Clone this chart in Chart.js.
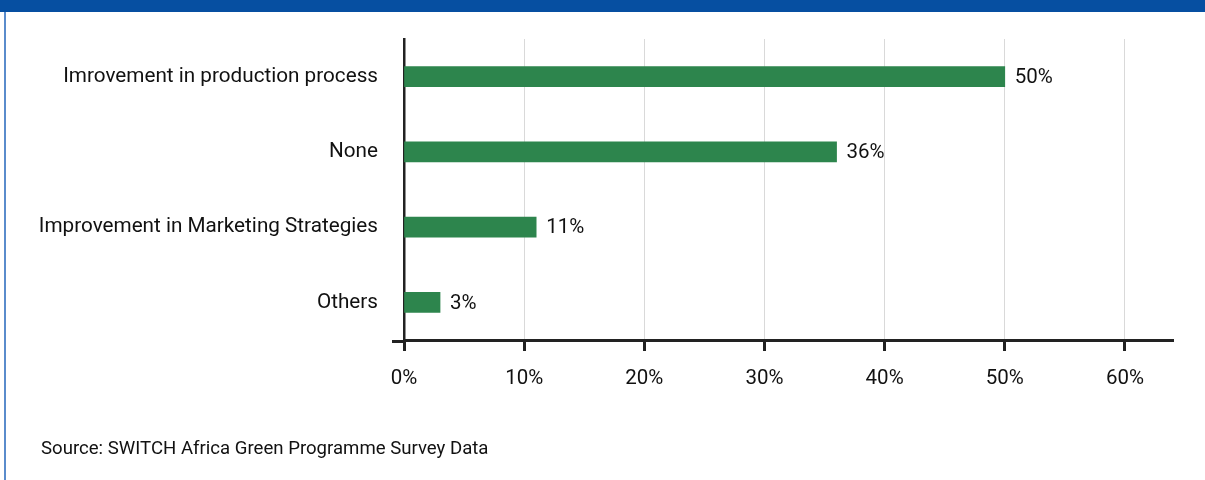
<!DOCTYPE html>
<html>
<head>
<meta charset="utf-8">
<script src="https://cdn.jsdelivr.net/npm/chart.js@4"></script>
<style>
    html, body { margin: 0; padding: 0; background: #fff; }
    #wrap { position: relative; width: 1205px; height: 480px; overflow: hidden; font-family: Roboto, sans-serif; }
    #banner { position: absolute; left: 0; top: 0; width: 1205px; height: 12px; background: #064fa1; }
    #edge { position: absolute; left: 4px; top: 12px; width: 2px; height: 468px; background: #5a8ccc; }
    #source { position: absolute; left: 41px; top: 437px; font-size: 18.6px; color: #111; }
    canvas { position: absolute; left: 0; top: 0; }
</style>
</head>
<body>
<div id="wrap">
    <div id="banner"></div>
    <div id="edge"></div>
    <canvas id="impactoChart" width="1205" height="480"></canvas>
    <div id="source">Source: SWITCH Africa Green Programme Survey Data</div>
</div>
<script>
const categorias = [
    'Imrovement in production process',
    'None',
    'Improvement in Marketing Strategies',
    'Others'
];
const porcentajes = [50, 36, 11, 3];
const ticksX = [0, 10, 20, 30, 40, 50, 60];

// etiquetas de valor a la derecha de cada barra
const etiquetasValor = {
    id: 'etiquetasValor',
    afterDatasetsDraw(chart) {
        const ctx = chart.ctx;
        const meta = chart.getDatasetMeta(0);
        ctx.save();
        ctx.font = '20.5px Roboto';
        ctx.fillStyle = '#111';
        ctx.textBaseline = 'middle';
        ctx.textAlign = 'left';
        meta.data.forEach(function(bar, i) {
            ctx.fillText(porcentajes[i] + '%', bar.x + 10, bar.y + 1);
        });
        ctx.restore();
    },
    afterDraw(chart) {
        // el eje X sobresale un poco a la izquierda del eje Y
        const ctx = chart.ctx;
        const area = chart.chartArea;
        ctx.save();
        ctx.strokeStyle = '#222';
        ctx.lineWidth = 3;
        ctx.beginPath();
        ctx.moveTo(area.left - 12, area.bottom + 1.5);
        ctx.lineTo(area.left, area.bottom + 1.5);
        ctx.stroke();
        ctx.restore();
    }
};

const ctx = document.getElementById('impactoChart').getContext('2d');
const impactoChart = new Chart(ctx, {
    type: 'bar',
    data: {
        labels: categorias,
        datasets: [{
            data: porcentajes,
            backgroundColor: '#2d854d',
            borderWidth: 0,
            barThickness: 20
        }]
    },
    options: {
        indexAxis: 'y',
        responsive: false,
        animation: false,
        layout: {
            padding: { top: 39, right: 32, bottom: 0, left: 0 }
        },
        plugins: {
            legend: { display: false },
            tooltip: { enabled: false }
        },
        scales: {
            x: {
                min: 0,
                max: 64,
                afterBuildTicks: function(scale) {
                    scale.ticks = ticksX.map(function(v) { return { value: v }; });
                },
                afterFit: function(scale) {
                    scale.height = 140;
                },
                grid: {
                    color: '#d9d9d9',
                    lineWidth: 1,
                    drawTicks: true,
                    tickLength: 11,
                    tickColor: '#222',
                    tickWidth: 3
                },
                border: { display: true, color: '#222', width: 3 },
                ticks: {
                    padding: 16,
                    color: '#111',
                    font: { family: 'Roboto', size: 20.5 },
                    callback: function(value) {
                        return value + '%';
                    }
                }
            },
            y: {
                afterFit: function(scale) {
                    scale.width = 404;
                },
                grid: { display: false, drawTicks: false },
                border: { display: true, color: '#222', width: 2.5 },
                ticks: {
                    padding: 26,
                    color: '#111',
                    font: { family: 'Roboto', size: 20.7 }
                }
            }
        }
    },
    plugins: [etiquetasValor]
});
</script>
</body>
</html>
